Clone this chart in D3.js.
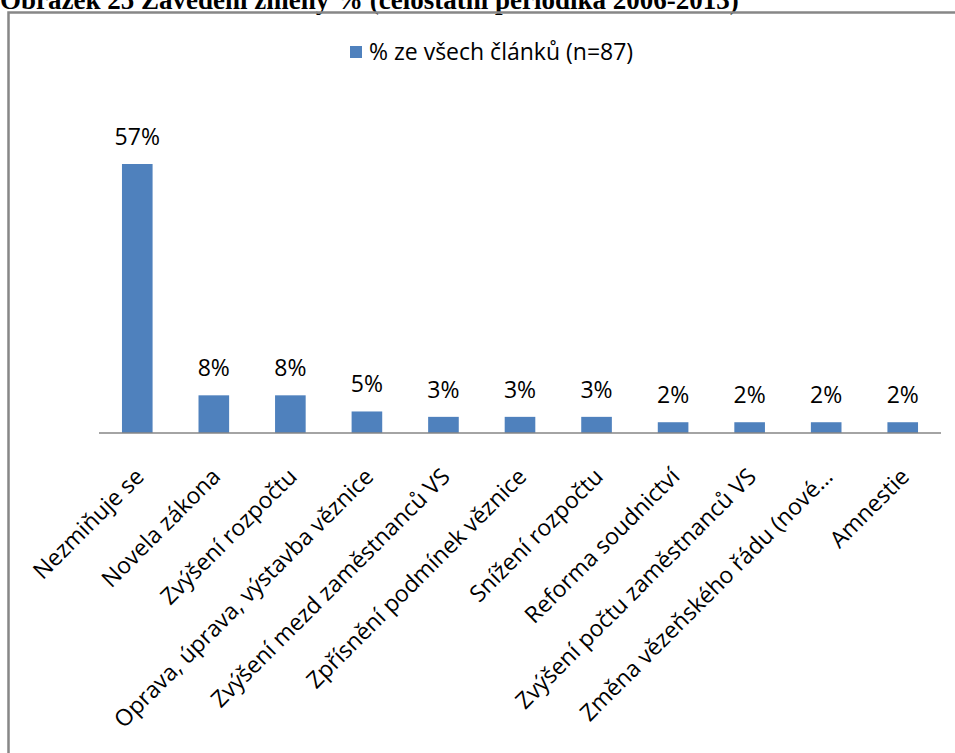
<!DOCTYPE html>
<html><head><meta charset="utf-8">
<script src="https://cdn.jsdelivr.net/npm/d3@7"></script>
<style>
body{margin:0;background:#fff;overflow:hidden}
svg{display:block}
</style></head>
<body>
<script>
const categories = ["Nezmiňuje se","Novela zákona","Zvýšení rozpočtu","Oprava, úprava, výstavba věznice","Zvýšení mezd zaměstnanců VS","Zpřísnění podmínek věznice","Snížení rozpočtu","Reforma soudnictví","Zvýšení počtu zaměstnanců VS","Změna vězeňského řádu (nové…","Amnestie"];
const values = [57.47, 8.05, 8.05, 4.60, 3.45, 3.45, 3.45, 2.30, 2.30, 2.30, 2.30];
const seriesName = "% ze všech článků (n=87)";
const title = "Obrázek 25 Zavedení změny % (celostátní periodika 2006-2013)";

const W = 955, H = 753;
const svg = d3.select("body").append("svg").attr("width", W).attr("height", H);
const font = "Open Sans, Lato, sans-serif";

svg.append("text").attr("x", 0).attr("y", 9)
  .attr("font-family", "Liberation Serif, Times New Roman, serif")
  .attr("font-weight", "bold").attr("font-size", 27).attr("fill", "#000")
  .text(title);

// frame
svg.append("path").attr("d", `M8.5,${H+5} V12.5 H${W+5}`)
  .attr("fill", "none").attr("stroke", "#878787").attr("stroke-width", 2.5);

const x = d3.scaleBand().domain(categories).range([99, 941]).paddingInner(0.6).paddingOuter(0.3);
const y = d3.scaleLinear().domain([0, 57.47]).range([433, 164]);

const color = "#4F81BD";
svg.append("g").selectAll("rect").data(values).join("rect")
  .attr("x", (d, i) => x(categories[i]))
  .attr("width", x.bandwidth())
  .attr("y", d => y(d))
  .attr("height", d => y(0) - y(d))
  .attr("fill", color);

// axis
const axis = d3.axisBottom(x).tickSize(0).tickPadding(0);
const gAx = svg.append("g").attr("transform", `translate(0,${y(0)})`).call(axis);
gAx.select(".domain").attr("stroke", "#868686").attr("stroke-width", 1.5).attr("d", "M99,0H941");
gAx.selectAll(".tick text")
  .attr("font-family", font).attr("font-size", 23).attr("fill", "#000")
  .attr("text-anchor", "end")
  .attr("dy", null).attr("y", 0)
  .attr("transform", "translate(8,45) rotate(-45)");

// data labels
svg.append("g").selectAll("text").data(values).join("text")
  .attr("x", (d, i) => x(categories[i]) + x.bandwidth() / 2)
  .attr("y", d => y(d) - 19)
  .attr("text-anchor", "middle")
  .attr("font-family", font).attr("font-size", 23).attr("fill", "#000")
  .text(d => Math.round(d) + "%");

// legend
const lg = svg.append("g");
lg.append("rect").attr("x", 350).attr("y", 46).attr("width", 12).attr("height", 12).attr("fill", color);
lg.append("text").attr("x", 369).attr("y", 60).attr("font-family", font).attr("font-size", 23).attr("fill", "#000").text(seriesName);
</script>
</body></html>
